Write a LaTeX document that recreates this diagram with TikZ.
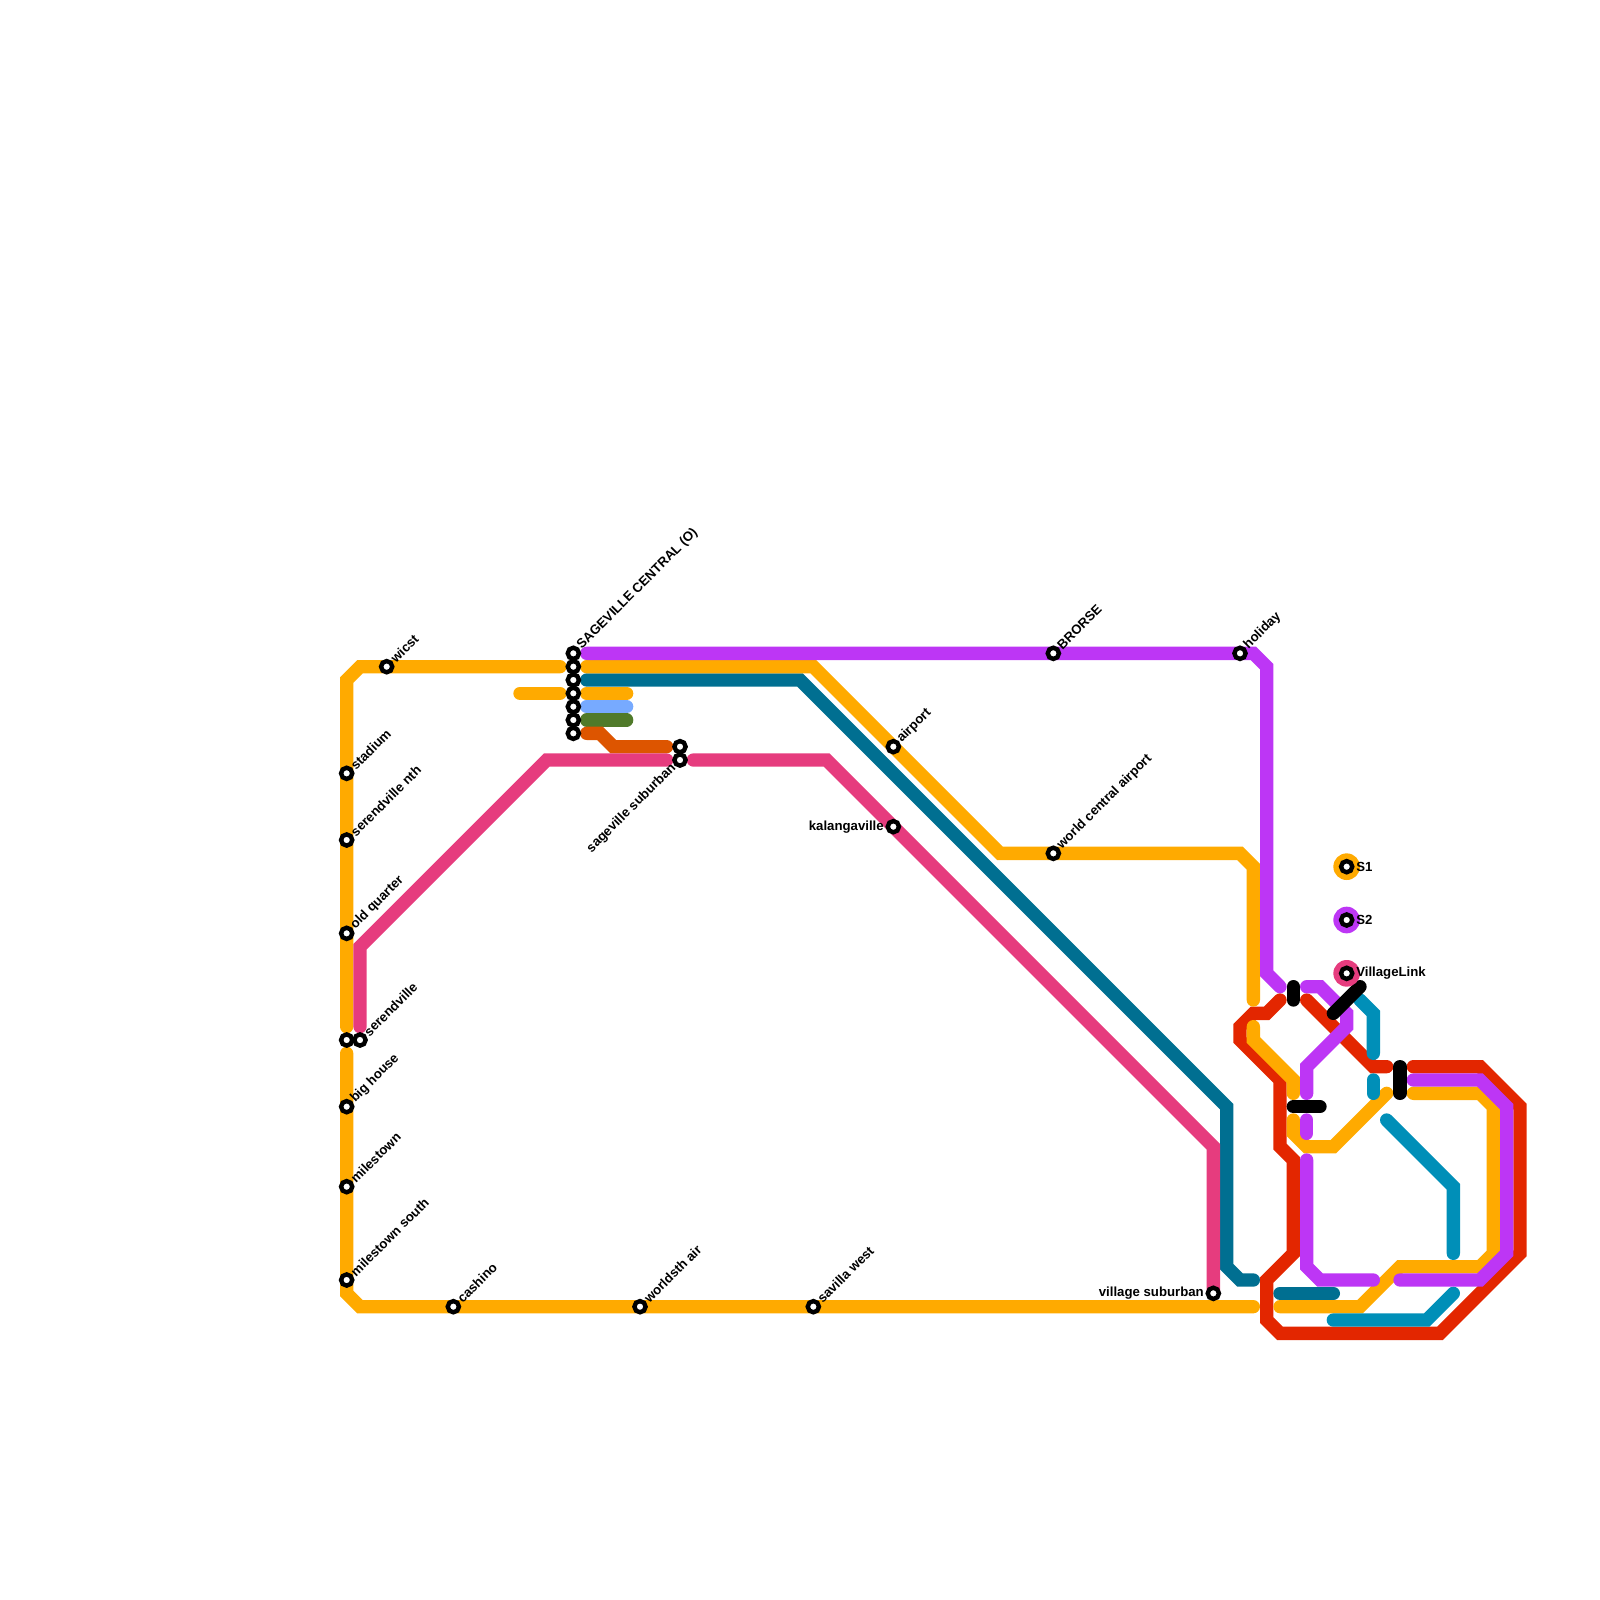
\documentclass[tikz,border=0pt]{standalone}
\usepackage{fontspec}
\setmainfont{Liberation Sans}
\definecolor{cOrange}{HTML}{FFAA00}
\definecolor{cPurple}{HTML}{BD36F5}
\definecolor{cDeep}{HTML}{006F91}
\definecolor{cTeal}{HTML}{008FB8}
\definecolor{cRed}{HTML}{E32600}
\definecolor{cPink}{HTML}{E63C7E}
\definecolor{cBurnt}{HTML}{DD5500}
\definecolor{cBlue}{HTML}{77AAFF}
\definecolor{cGreen}{HTML}{507A2A}
\tikzset{
  route/.style={line width=10pt,line cap=round,line join=miter,#1},
  stn/.style={circle,draw=black,fill=white,line width=3.3pt,minimum size=8.4pt,inner sep=0pt,outer sep=0pt},
  lbl/.style={font=\bfseries\fontsize{9.9}{11}\selectfont,inner sep=0pt},
  up/.style={lbl,rotate=45,anchor=west},
  disc/.style={circle,minimum size=20pt,inner sep=0pt,fill=#1}
}
\begin{document}
\begin{tikzpicture}[x=10pt,y=-10pt]
\useasboundingbox (0,0) rectangle (120,120);
% red
\draw[route=cRed] (96,75)--(95,76)--(94,76)--(93,77)--(93,78)--(96,81)--(96,86)--(97,87)--(97,94)--(95,96)--(95,99)--(96,100)--(108,100)--(114,94)--(114,83)--(111,80)--(106,80);
\draw[route=cRed] (98,75)--(103,80)--(104,80);
% deep teal
\draw[route=cDeep] (44,51)--(60,51)--(92,83)--(92,95)--(93,96)--(94,96);
\draw[route=cDeep] (96,97)--(100,97);
% orange
\draw[route=cOrange] (42,50)--(27,50)--(26,51)--(26,77);
\draw[route=cOrange] (26,79)--(26,97)--(27,98)--(94,98);
\draw[route=cOrange] (44,50)--(61,50)--(75,64)--(93,64)--(94,65)--(94,75);
\draw[route=cOrange] (94,77)--(94,78)--(97,81)--(97,82);
\draw[route=cOrange] (97,84)--(97,85)--(98,86)--(100,86)--(104,82);
\draw[route=cOrange] (106,82)--(111,82)--(112,83)--(112,94)--(111,95)--(105,95)--(102,98)--(96,98);
\draw[route=cOrange] (39,52)--(42,52);
\draw[route=cOrange] (44,52)--(47,52);
% short branches
\draw[route=cBlue] (44,53)--(47,53);
\draw[route=cGreen] (44,54)--(47,54);
\draw[route=cBurnt] (44,55)--(45,55)--(46,56)--(50,56);
% pink
\draw[route=cPink] (27,77)--(27,71)--(41,57)--(50,57);
\draw[route=cPink] (52,57)--(62,57)--(91,86)--(91,97);
% teal
\draw[route=cTeal] (102,75)--(103,76)--(103,79);
\draw[route=cTeal] (103,81)--(103,82);
\draw[route=cTeal] (104,84)--(109,89)--(109,94);
\draw[route=cTeal] (100,99)--(107,99)--(109,97);
% purple
\draw[route=cPurple] (44,49)--(94,49)--(95,50)--(95,73)--(96,74);
\draw[route=cPurple] (98,74)--(99,74)--(101,76)--(101,77)--(98,80)--(98,82);
\draw[route=cPurple] (98,84)--(98,85);
\draw[route=cPurple] (98,87)--(98,95)--(99,96)--(103,96);
\draw[route=cPurple] (105,96)--(111,96)--(113,94)--(113,83)--(111,81)--(106,81);
% black connectors
\draw[route=black] (97,74)--(97,75);
\draw[route=black] (100,76)--(102,74);
\draw[route=black] (105,80)--(105,82);
\draw[route=black] (97,83)--(99,83);
% legend discs
\node[disc=cOrange] (d1) at (101,65) {};
\node[disc=cPurple] (d2) at (101,69) {};
\node[disc=cPink] (d3) at (101,73) {};
% stations
\foreach \n/\x/\y in {a/43/49,b/43/50,c/43/51,d/43/52,e/43/53,f/43/54,g/43/55,h/51/56,i/51/57,j/29/50,k/26/58,l/26/63,m/26/70,n/26/78,o/27/78,p/26/83,q/26/89,r/26/96,s/34/98,t/48/98,u/61/98,v/67/56,w/67/62,x/79/49,y/79/64,z/93/49,aa/91/97,ab/101/65,ac/101/69,ad/101/73}
  \node[stn] (\n) at (\x,\y) {};
% labels
\node[up] (la) at ([shift={(0.45,-0.45)}]a.center) {SAGEVILLE CENTRAL (O)};
\node[up] (lj) at ([shift={(0.45,-0.45)}]j.center) {wicst};
\node[up] (lk) at ([shift={(0.45,-0.45)}]k.center) {stadium};
\node[up] (ll) at ([shift={(0.45,-0.45)}]l.center) {serendville nth};
\node[up] (lm) at ([shift={(0.45,-0.45)}]m.center) {old quarter};
\node[up] (lo) at ([shift={(0.45,-0.45)}]o.center) {serendville};
\node[up] (lp) at ([shift={(0.45,-0.45)}]p.center) {big house};
\node[up] (lq) at ([shift={(0.45,-0.45)}]q.center) {milestown};
\node[up] (lr) at ([shift={(0.45,-0.45)}]r.center) {milestown south};
\node[up] (ls) at ([shift={(0.45,-0.45)}]s.center) {cashino};
\node[up] (lt) at ([shift={(0.45,-0.45)}]t.center) {worldsth air};
\node[up] (lu) at ([shift={(0.45,-0.45)}]u.center) {savilla west};
\node[up] (lv) at ([shift={(0.45,-0.45)}]v.center) {airport};
\node[up] (lx) at ([shift={(0.45,-0.45)}]x.center) {BRORSE};
\node[up] (ly) at ([shift={(0.45,-0.45)}]y.center) {world central airport};
\node[up] (lz) at ([shift={(0.45,-0.45)}]z.center) {holiday};
\node[lbl,rotate=45,anchor=east] (li) at ([shift={(-0.45,0.45)}]i.center) {sageville suburban};
\node[lbl,anchor=east] (lw) at ([shift={(-0.7,0)}]w.center) {kalangaville};
\node[lbl,anchor=east] (laa) at ([shift={(-0.7,0)}]aa.center) {village suburban};
\node[lbl,anchor=west] (lab) at ([shift={(0.7,0)}]ab.center) {S1};
\node[lbl,anchor=west] (lac) at ([shift={(0.7,0)}]ac.center) {S2};
\node[lbl,anchor=west] (lad) at ([shift={(0.7,0)}]ad.center) {VillageLink};
\end{tikzpicture}
\end{document}
